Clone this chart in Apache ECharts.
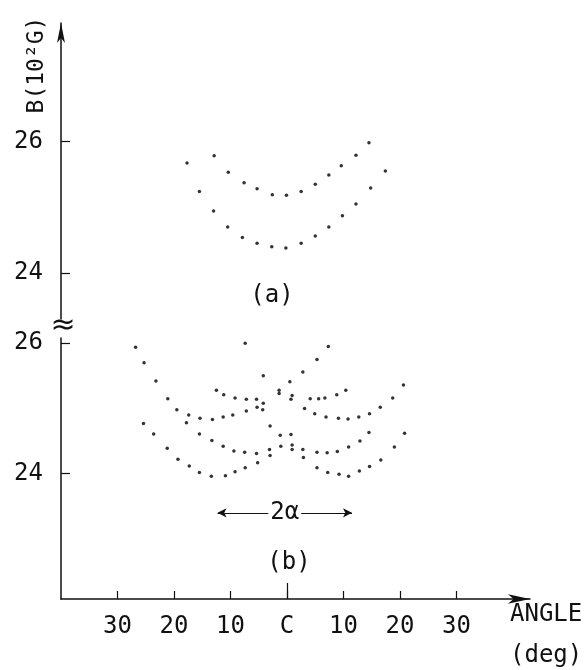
<!DOCTYPE html>
<html>
<head>
<meta charset="utf-8">
<script src="https://cdn.jsdelivr.net/npm/echarts@6/dist/echarts.min.js"></script>
<style>
  html, body { margin: 0; padding: 0; background: #fff; }
  #main { width: 586px; height: 670px; }
</style>
</head>
<body>
<div id="main"></div>
<script>
// 角度刻度 (deg), 0 顯示為 C
const angleTicks = [-30, -20, -10, 0, 10, 20, 30];
const fieldTicks = [24, 26];

// (a) 兩條曲線 [angle, B(10^2 G)]
const aUpper = [
  [-12.9, 25.78], [-10.4, 25.53], [-7.6, 25.37], [-5.3, 25.28], [-2.6, 25.19],
  [-0.1, 25.18], [2.5, 25.24], [5.0, 25.35], [7.4, 25.49], [9.6, 25.63],
  [12.2, 25.79], [14.5, 25.98]
];
const aLower = [
  [-17.7, 25.67], [-15.5, 25.24], [-13.0, 24.94], [-10.5, 24.70], [-7.9, 24.54],
  [-5.3, 24.45], [-2.7, 24.40], [-0.2, 24.38], [2.5, 24.45], [5.0, 24.56],
  [7.4, 24.70], [9.8, 24.87], [12.2, 25.05], [14.8, 25.29], [17.4, 25.55]
];

// (b) 曲線
const bUpperLeft = [
  [-26.8, 25.94], [-25.3, 25.70], [-23.2, 25.42], [-21.1, 25.15], [-19.5, 24.98],
  [-17.4, 24.90], [-15.4, 24.85], [-13.2, 24.83], [-11.3, 24.87], [-9.6, 24.90],
  [-7.2, 24.96], [-5.3, 25.02], [-4.2, 25.08], [-1.4, 25.28], [0.5, 25.41],
  [2.8, 25.56], [5.3, 25.75], [7.3, 25.95]
];
const bUpperRight = [
  [-7.4, 26.00], [-4.2, 25.50], [-1.4, 25.23], [0.7, 25.14], [3.1, 25.00],
  [4.9, 24.92], [6.9, 24.87], [9.1, 24.85], [10.8, 24.84], [12.7, 24.87],
  [14.6, 24.92], [16.5, 25.02], [18.7, 25.16], [20.6, 25.36]
];
const bMidUpper = [
  [-12.5, 25.28], [-11.2, 25.21], [-9.2, 25.16], [-7.2, 25.14], [-5.4, 25.14],
  [-4.3, 24.98], [0.9, 25.20], [4.1, 25.15], [5.6, 25.15], [6.7, 25.16],
  [8.8, 25.21], [10.4, 25.28]
];
const bLowerLeft = [
  [-25.4, 24.77], [-23.6, 24.61], [-21.2, 24.39], [-19.3, 24.22], [-17.3, 24.12],
  [-15.5, 24.02], [-13.4, 23.96], [-10.9, 23.97], [-9.2, 24.03], [-7.4, 24.09],
  [-5.2, 24.17], [-3.0, 24.28], [-1.1, 24.42], [0.7, 24.60]
];
const bLowerRight = [
  [-3.0, 24.73], [-1.2, 24.59], [0.9, 24.37], [2.9, 24.25], [5.3, 24.09],
  [7.2, 24.02], [9.2, 23.99], [10.9, 23.96], [12.8, 24.04], [14.6, 24.11],
  [16.6, 24.21], [19.0, 24.41], [20.8, 24.62]
];
const bMidLeft = [
  [-17.8, 24.78], [-15.5, 24.61], [-13.3, 24.51], [-11.3, 24.42], [-9.4, 24.35],
  [-7.5, 24.33], [-5.4, 24.31], [-3.1, 24.37], [0.9, 24.44]
];
const bMidRight = [
  [2.8, 24.37], [5.3, 24.33], [7.1, 24.32], [8.9, 24.34], [10.9, 24.41],
  [12.9, 24.50], [14.5, 24.63]
];

// 2α 箭頭 (兩曲線中心間距)
const twoAlpha = { from: -12.3, to: 11.5, level: 23.4 };

const FONT = 'DejaVu Sans Mono';
const INK = '#111';

const chart = echarts.init(document.getElementById('main'));

const dots = (data, idx) => ({
  type: 'scatter',
  xAxisIndex: idx,
  yAxisIndex: idx,
  data: data,
  symbolSize: 3.5,
  itemStyle: { color: '#000' },
  silent: true
});

const fieldAxis = (grid, min, max, arrow) => ({
  type: 'value',
  gridIndex: grid,
  position: 'left',
  min: min,
  max: max,
  axisLine: {
    show: true,
    onZero: false,
    symbol: arrow ? ['none', 'arrow'] : 'none',
    symbolSize: [6, 20],
    lineStyle: { color: INK, width: 1.5 }
  },
  axisTick: { show: true, inside: true, length: 9, customValues: fieldTicks, lineStyle: { color: INK, width: 1.2 } },
  axisLabel: { customValues: fieldTicks, margin: 18, color: INK, fontFamily: FONT, fontSize: 24 },
  splitLine: { show: false }
});

const option = {
  animation: false,
  backgroundColor: '#fff',
  grid: [
    { left: 61, right: 56, top: 23, height: 296 },
    { left: 61, right: 56, top: 338, height: 261 }
  ],
  xAxis: [
    { type: 'value', gridIndex: 0, min: -40, max: 43, show: false },
    {
      type: 'value', gridIndex: 1, min: -40, max: 43, position: 'bottom',
      axisLine: {
        show: true, onZero: false, symbol: ['none', 'arrow'], symbolSize: [7, 22],
        lineStyle: { color: INK, width: 1.5 }
      },
      axisTick: { show: true, inside: true, length: 8, customValues: angleTicks, lineStyle: { color: INK, width: 1.2 } },
      axisLabel: {
        customValues: angleTicks, margin: 16, color: INK, fontFamily: FONT, fontSize: 24,
        formatter: v => (v === 0 ? 'C' : String(Math.abs(v)))
      },
      splitLine: { show: false }
    },
    {
      // 中心刻度較長
      type: 'value', gridIndex: 1, min: -40, max: 43, position: 'bottom',
      axisLine: { show: false, onZero: false },
      axisTick: { show: true, inside: true, length: 16, customValues: [0], lineStyle: { color: INK, width: 1.2 } },
      axisLabel: { show: false },
      splitLine: { show: false }
    }
  ],
  yAxis: [
    fieldAxis(0, 23.3, 27.8, true),
    fieldAxis(1, 22.08, 26.08, false)
  ],
  series: [
    dots(aUpper, 0),
    dots(aLower, 0),
    dots(bUpperLeft, 1),
    dots(bUpperRight, 1),
    dots(bMidUpper, 1),
    dots(bLowerLeft, 1),
    dots(bLowerRight, 1),
    dots(bMidLeft, 1),
    {
      ...dots(bMidRight, 1),
      markLine: {
        silent: true,
        symbol: ['arrow', 'arrow'],
        symbolSize: [7, 9],
        lineStyle: { color: INK, width: 1.2, type: 'solid' },
        label: {
          show: true, position: 'insideMiddle', formatter: '2α',
          color: INK, fontFamily: FONT, fontSize: 24,
          backgroundColor: '#fff', padding: [0, 2]
        },
        data: [[
          { coord: [twoAlpha.from, twoAlpha.level] },
          { coord: [twoAlpha.to, twoAlpha.level] }
        ]]
      }
    }
  ],
  graphic: [
    {
      type: 'text', x: 37, y: 65, rotation: Math.PI / 2,
      style: { text: 'B(10²G)', fill: INK, font: '23px "DejaVu Sans Mono"', align: 'center', verticalAlign: 'middle' }
    },
    {
      type: 'text', x: 63, y: 326,
      style: { text: '≈', fill: INK, font: '30px "DejaVu Sans"', align: 'center', verticalAlign: 'middle' }
    },
    {
      type: 'text', x: 272, y: 296,
      style: { text: '(a)', fill: INK, font: '24px "DejaVu Sans Mono"', align: 'center', verticalAlign: 'middle' }
    },
    {
      type: 'text', x: 289, y: 563,
      style: { text: '(b)', fill: INK, font: '24px "DejaVu Sans Mono"', align: 'center', verticalAlign: 'middle' }
    },
    {
      type: 'text', x: 510, y: 615,
      style: { text: 'ANGLE', fill: INK, font: '24px "DejaVu Sans Mono"', align: 'left', verticalAlign: 'middle' }
    },
    {
      type: 'text', x: 510, y: 656,
      style: { text: '(deg)', fill: INK, font: '24px "DejaVu Sans Mono"', align: 'left', verticalAlign: 'middle' }
    }
  ]
};

chart.setOption(option);
</script>
</body>
</html>
